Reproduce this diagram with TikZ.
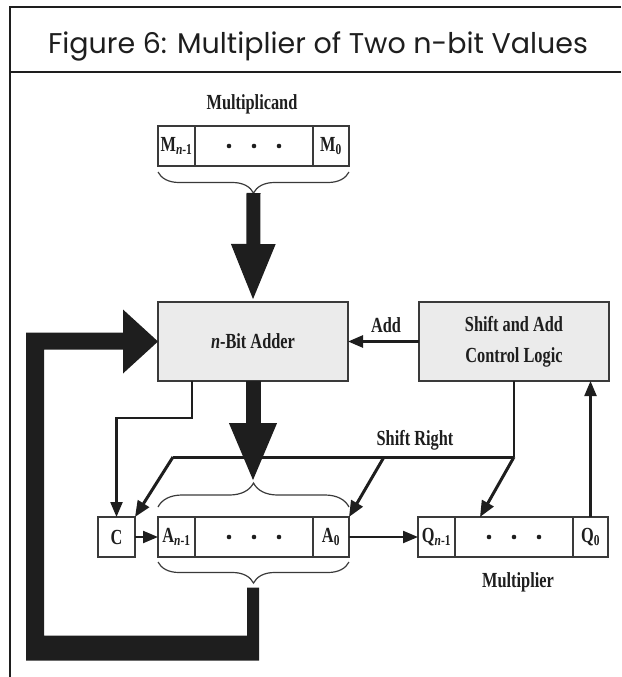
\documentclass[tikz,border=0pt]{standalone}
\usepackage{fontspec}
\setmainfont{Liberation Serif}
\newfontfamily\dfont[FakeStretch=0.76]{Liberation Serif}
\newfontfamily\tfont{Poppins}
\usetikzlibrary{arrows.meta,decorations.pathreplacing,calc}
\definecolor{ink}{HTML}{1E1E1E}
\definecolor{boxline}{HTML}{3A3A3A}
\definecolor{boxfill}{HTML}{EBEBEB}
\begin{document}
\begin{tikzpicture}[x=1pt,y=-1pt,
  dtext/.style={font=\dfont\bfseries\fontsize{21.5}{31}\selectfont, text=ink},
  cell/.style={dtext, draw=boxline, line width=1.3pt, fill=white, minimum height=40pt, inner sep=0pt, outer sep=0pt},
  unit/.style={cell, fill=boxfill, minimum width=190pt, minimum height=79pt, align=center},
  lbl/.style={dtext, inner sep=0pt},
  sig/.style={draw=ink, line width=2.2pt, -{Triangle[length=15pt,width=12pt]}},
  sbus/.style={draw=ink, line width=3pt},
  sarrow/.style={sbus, -{Triangle[length=16pt,width=13pt]}},
  brc/.style={draw=boxline, line width=1.2pt, decorate},
  frame/.style={draw=ink, line width=2pt}]
\useasboundingbox (0,0) rectangle (621,677);
% frame
\draw[frame] (621,7.5) -- (9.5,7.5) -- (9.5,677);
\draw[frame] (9.5,72) -- (621,72);
\node[font=\tfont\fontsize{28.5}{32}\selectfont, text=ink, anchor=base, inner sep=0pt] (title) at (318,53) {Figure 6: Multiplier of Two n-bit Values};

% multiplicand register
\node[lbl] (mcand) at (252,104) {Multiplicand};
\node[cell, minimum width=37pt] (Mh) at (176.5,146) {M\textsubscript{\textit{n}-1}};
\node[cell, minimum width=118pt] (Md) at (254,146) {};
\node[cell, minimum width=36pt] (Ml) at (331,146) {M\textsubscript{0}};
\foreach \dx in {-25,0,25} \fill[ink] ($(Md.center)+(\dx,0)$) circle (2.3pt);

% adder and control
\node[unit] (adder) at (253,341.5) {\textit{n}-Bit Adder};
\node[unit] (ctrl) at (514,341.5) {Shift and Add\\Control Logic};

% A, C, Q registers
\node[cell, minimum width=37pt] (C) at (116.5,537) {C};
\node[cell, minimum width=37pt] (Ah) at (176.5,537) {A\textsubscript{\textit{n}-1}};
\node[cell, minimum width=118pt] (Ad) at (254,537) {};
\node[cell, minimum width=36pt] (Al) at (331,537) {A\textsubscript{0}};
\foreach \dx in {-25,0,25} \fill[ink] ($(Ad.center)+(\dx,0)$) circle (2.3pt);
\node[cell, minimum width=37pt] (Qh) at (436.5,537) {Q\textsubscript{\textit{n}-1}};
\node[cell, minimum width=118pt] (Qd) at (514,537) {};
\node[cell, minimum width=35pt] (Ql) at (590.5,537) {Q\textsubscript{0}};
\foreach \dx in {-25,0,25} \fill[ink] ($(Qd.center)+(\dx,0)$) circle (2.3pt);
\node[lbl] (mplier) at (518,582) {Multiplier};

% braces
\draw[brc, decoration={brace, amplitude=21pt}] ($(Ml.south east)+(0,6)$) -- ($(Mh.south west)+(0,6)$);
\coordinate (b1tip) at ($(Mh.south west)!0.5!(Ml.south east)+(0,27)$);
\draw[brc, decoration={brace, amplitude=24pt}] ($(Ah.north west)+(0,-10)$) -- ($(Al.north east)+(0,-10)$);
\coordinate (b2tip) at ($(Ah.north west)!0.5!(Al.north east)+(0,-34)$);
\draw[brc, decoration={brace, amplitude=21pt}] ($(Al.south east)+(0,5)$) -- ($(Ah.south west)+(0,5)$);

% shift right bus (under the big arrow)
\draw[draw=ink, line width=2pt] (ctrl.south) -- ++(0,76) coordinate (srR);
\draw[sbus] (srR) -- ($(srR)+(-341,0)$) coordinate (srL);
\draw[sarrow] (srL) -- (C.north east);
\draw[sarrow] ($(srL)+(211,0)$) -- (Al.north east);
\draw[sarrow] (srR) -- ($(Qd.north west)+(25,0)$);
\node[lbl] (srlbl) at (415,440) {Shift Right};

% big data arrows
\draw[draw=ink, line width=14pt, -{Triangle[length=58pt,width=40pt]}] (b1tip) -- (adder.north);
\draw[draw=ink, line width=15pt, -{Triangle[length=60pt,width=43pt]}] (adder.south) -- (adder.south |- b2tip);

% feedback bus into adder
\fill[ink] (adder.west) -- ++(-35,-32) -- ++(0,23) -- ++(-97,0) -- ++(0,328) -- ++(233,0)
  -- ++(0,-73) -- ++(-12,0) -- ++(0,48) -- ++(-203,0) -- ++(0,-286) -- ++(79,0) -- ++(0,24) -- cycle;

% control signals
\draw[sig] ($(adder.south west)+(34,0)$) -- ++(0,37) -| (C.north);
\draw[sig] (C.east) -- (Ah.west);
\draw[sig] (Al.east) -- (Qh.west);
\draw[sig] (Ql.north) -- (Ql.north |- ctrl.south);
\draw[sig, line width=2.6pt] (ctrl.west) -- (adder.east);
\node[lbl] (addlbl) at (386,325) {Add};
\end{tikzpicture}
\end{document}
